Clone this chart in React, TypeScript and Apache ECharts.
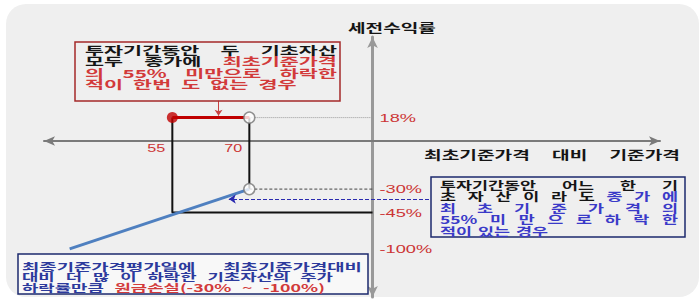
import React, { useEffect, useRef } from 'react';
import * as echarts from 'echarts';

const W = 700;
const H = 300;

// ---- data (schematic payoff diagram) ----
const priceLevels = [55, 70]; // 최초기준가격 대비 기준가격 (%)
const priceLabels = ['55', '70'];
const returnLabels = ['18%', '-30%', '-45%', '-100%'];
const returnLevels = [18, -37, -55, -83]; // schematic vertical positions of the return levels
const axisCrossX = 94; // where the return axis crosses the price axis (schematic)
const lossStartX = 35; // schematic start of the loss line
const xRange = [30, 150];
const yRange = [-120, 80];
const couponCallout = [[64, 31], [64, 19.5]];
const knockInCallout = [[105, -44.6], [66, -44.6]];

// ---- texts ----
const yAxisTitle: [string, string][][] = [[['세전수익률', 'k']]];
const xAxisTitle: [string, string][][] = [[['최초기준가격', 'k'], ['대비', 'k'], ['기준가격', 'k']]];
const noteCoupon: [string, string][][] = [
  [['투자기간동안', 'k'], ['두', 'k'], ['기초자산', 'k']],
  [['모두', 'k'], ['종가에', 'k'], ['최초기준가격', 'r']],
  [['의', 'r'], ['55%', 'r'], ['미만으로', 'r'], ['하락한', 'r']],
  [['적이', 'r'], ['한번', 'r'], ['도', 'r'], ['없는', 'r'], ['경우', 'r']],
];
const noteKnockIn: [string, string][][] = [
  [['투자기간동안', 'k'], ['어느', 'k'], ['한', 'k'], ['기', 'k']],
  [['초', 'k'], ['자', 'k'], ['산', 'k'], ['이', 'k'], ['라', 'k'], ['도', 'k'], ['종', 'b'], ['가', 'b'], ['에', 'b']],
  [['최', 'b'], ['초', 'b'], ['기', 'b'], ['준', 'b'], ['가', 'b'], ['격', 'b'], ['의', 'b']],
  [['55%', 'b'], ['미', 'b'], ['만', 'b'], ['으', 'b'], ['로', 'b'], ['하', 'b'], ['락', 'b'], ['한', 'b']],
  [['적이', 'b'], ['있는', 'b'], ['경우', 'b']],
];
const noteLoss: [string, string][][] = [
  [['최종기준가격평가일에', 'n'], ['최초기준가격대비', 'n']],
  [['대비', 'n'], ['더', 'n'], ['많', 'n'], ['이', 'n'], ['하락한', 'n'], ['기초자산의', 'n'], ['주가', 'n']],
  [['하락률만큼', 'n'], ['원금손실(-30%', 'r'], ['~', 'r'], ['-100%)', 'r']],
];

const CJK = '"Noto Sans CJK KR", "Noto Sans CJK SC", sans-serif';
const LAT = '"Liberation Sans", Arial, sans-serif';
const COLORS: Record<string, string> = { k: '#151515', r: '#d23a3a', b: '#3a3ac8', n: '#2c3a9c' };
const LABEL_RED = '#cc3535';

type Spec = {
  x: number;
  ys: number[];
  widths: (number | null)[];
  size: number;
  sx: number;
  sxs?: (number | null)[];
  sy: number;
  gap: number;
};

export default function App() {
  const ref = useRef<HTMLDivElement>(null);

  useEffect(() => {
    document.body.style.margin = '0';
    const chart = echarts.init(ref.current!, null, { renderer: 'svg', width: W, height: H });

    const gridLeft = 44;
    const gridRight = 40;
    const gridW = W - gridLeft - gridRight;
    const yOffset = -((axisCrossX - xRange[0]) / (xRange[1] - xRange[0])) * gridW;

    const [barrier, upper] = priceLevels;
    const [rCoupon, rUpper, rBarrier, rFloor] = returnLevels;

    const plain = (data: number[][], lineStyle: any, z = 3) => ({
      type: 'line',
      data,
      symbol: 'none',
      silent: true,
      z,
      lineStyle,
    });

    chart.setOption({
      animation: false,
      backgroundColor: '#ffffff',
      grid: { left: gridLeft, right: gridRight, top: 37, bottom: 3 },
      xAxis: {
        type: 'value',
        min: xRange[0],
        max: xRange[1],
        axisLine: {
          show: true,
          onZero: true,
          symbol: ['arrow', 'arrow'],
          symbolSize: [7, 11],
          lineStyle: { color: '#7a7a7a', width: 2 },
        },
        axisTick: { show: false },
        axisLabel: { show: false },
        splitLine: { show: false },
      },
      yAxis: {
        type: 'value',
        min: yRange[0],
        max: yRange[1],
        position: 'left',
        offset: yOffset,
        axisLine: {
          show: true,
          onZero: false,
          symbol: ['arrow', 'arrow'],
          symbolSize: [8, 11],
          lineStyle: { color: '#999999', width: 3 },
        },
        axisTick: { show: false },
        axisLabel: { show: false },
        splitLine: { show: false },
      },
      series: [
        plain([[lossStartX, rFloor], [upper, rUpper]], { color: '#4f80c0', width: 3 }, 3),
        plain([[barrier, rCoupon], [barrier, rBarrier], [axisCrossX, rBarrier]], { color: '#111', width: 2 }, 2),
        plain([[upper, rCoupon], [upper, rUpper]], { color: '#111', width: 2 }, 2),
        plain([[upper, rCoupon], [axisCrossX, rCoupon]], { color: '#9a9a9a', width: 1, type: 'dotted' }, 2),
        plain([[upper, rUpper], [axisCrossX, rUpper]], { color: '#444', width: 1, type: [3, 2] }, 2),
        plain([[barrier, rCoupon], [upper, rCoupon]], { color: '#c00000', width: 3 }, 4),
        {
          type: 'lines',
          coordinateSystem: 'cartesian2d',
          silent: true,
          z: 6,
          symbol: ['none', 'arrow'],
          symbolSize: 6,
          lineStyle: { color: '#c84040', width: 1, opacity: 1 },
          data: [{ coords: couponCallout }],
        },
        {
          type: 'lines',
          coordinateSystem: 'cartesian2d',
          silent: true,
          z: 6,
          symbol: ['none', 'arrow'],
          symbolSize: 7,
          lineStyle: { color: '#2b2bb0', width: 1, type: 'dashed', opacity: 1 },
          data: [{ coords: knockInCallout }],
        },
        {
          type: 'scatter',
          silent: true,
          z: 7,
          symbolSize: 11,
          itemStyle: { color: '#c00000' },
          data: [[barrier, rCoupon]],
        },
        {
          type: 'scatter',
          silent: true,
          z: 7,
          symbolSize: 11,
          itemStyle: { color: '#ffffff', borderColor: '#777777', borderWidth: 1.5 },
          data: [[upper, rCoupon], [upper, rUpper]],
        },
      ],
    });

    // ---- texts and boxes ----
    const canvas = document.createElement('canvas');
    const ctx = canvas.getContext('2d')!;
    const measure = (t: string, f: string) => {
      ctx.font = f;
      return ctx.measureText(t).width;
    };

    const layout = (lines: [string, string][][], spec: Spec) => {
      const els: any[] = [];
      const f = `bold ${spec.size}px ${CJK}`;
      lines.forEach((words, i) => {
        const y = spec.ys[i];
        const target = spec.widths[i];
        const baseSx = (spec.sxs && spec.sxs[i]) || spec.sx;
        const ws = words.map(([t]) => measure(t, f) * baseSx);
        const sum = ws.reduce((a, b) => a + b, 0);
        let gap = spec.gap;
        let sx = baseSx;
        if (target != null) {
          if (words.length > 1) gap = (target - sum) / (words.length - 1);
          else sx = (baseSx * target) / sum;
        }
        let x = spec.x;
        words.forEach(([t, role], j) => {
          els.push({
            type: 'text',
            x,
            y,
            scaleX: sx,
            scaleY: spec.sy,
            z: 20,
            silent: true,
            style: {
              text: t,
              fill: COLORS[role],
              font: f,
              textAlign: 'left',
              textVerticalAlign: 'middle',
              align: 'left',
              verticalAlign: 'middle',
            },
          });
          x += ws[j] * (sx / baseSx) + gap;
        });
      });
      return els;
    };

    const toPx = (p: number[]) => chart.convertToPixel({ gridIndex: 0 }, p) as number[];

    const labelEls: any[] = [];
    priceLevels.forEach((v, i) => {
      const [px, py] = toPx([v, 0]);
      labelEls.push({
        type: 'text',
        x: px - 7,
        y: py + 8,
        scaleX: 1.35,
        scaleY: 0.85,
        z: 20,
        silent: true,
        style: {
          text: priceLabels[i],
          fill: LABEL_RED,
          font: `normal 12px ${LAT}`,
          textAlign: 'right',
          textVerticalAlign: 'middle',
          align: 'right',
          verticalAlign: 'middle',
        },
      });
    });
    returnLevels.forEach((v, i) => {
      const [px, py] = toPx([axisCrossX, v]);
      labelEls.push({
        type: 'text',
        x: px + 7,
        y: py,
        scaleX: 1.4,
        scaleY: 0.85,
        z: 20,
        silent: true,
        style: {
          text: returnLabels[i],
          fill: LABEL_RED,
          font: `normal 13px ${LAT}`,
          textAlign: 'left',
          textVerticalAlign: 'middle',
          align: 'left',
          verticalAlign: 'middle',
        },
      });
    });

    const transparent = 'rgba(0,0,0,0)';
    const elements: any[] = [
      {
        type: 'rect',
        z: -10,
        silent: true,
        shape: { x: 6, y: 4, width: 693, height: 293, r: 20 },
        style: { fill: '#efefef' },
      },
      {
        type: 'rect',
        z: 15,
        silent: true,
        shape: { x: 75, y: 42, width: 265, height: 59 },
        style: { fill: transparent, stroke: '#a52a2a', lineWidth: 1.5 },
      },
      {
        type: 'rect',
        z: 15,
        silent: true,
        shape: { x: 431, y: 177, width: 254, height: 60 },
        style: { fill: transparent, stroke: '#1d2a6e', lineWidth: 1.5 },
      },
      {
        type: 'rect',
        z: 15,
        silent: true,
        shape: { x: 18, y: 254, width: 350, height: 40 },
        style: { fill: '#f8f8f8', stroke: '#1d2a6e', lineWidth: 1.5 },
      },
      ...layout(yAxisTitle, { x: 348, ys: [28], widths: [88], size: 14, sx: 1.37, sy: 0.88, gap: 0 }),
      ...layout(xAxisTitle, { x: 424, ys: [155], widths: [256], size: 14, sx: 1.37, sy: 0.88, gap: 0 }),
      ...layout(noteCoupon, { x: 85, ys: [50, 61.5, 73, 84], widths: [252, 252, 252, null], size: 14, sx: 1.48, sy: 0.8, gap: 10 }),
      ...layout(noteKnockIn, { x: 440, ys: [185, 196.5, 208, 219.5, 231], widths: [238, 238, 238, 238, null], size: 13, sx: 1.34, sy: 0.85, gap: 6 }),
      ...layout(noteLoss, { x: 22, ys: [266, 276.5, 287], widths: [340, 311, 303], sxs: [1.45, null, null], size: 13, sx: 1.37, sy: 0.82, gap: 10 }),
      ...labelEls,
    ];

    chart.setOption({ graphic: { elements } });

    return () => {
      chart.dispose();
    };
  }, []);

  return <div ref={ref} style={{ width: W, height: H }} />;
}
